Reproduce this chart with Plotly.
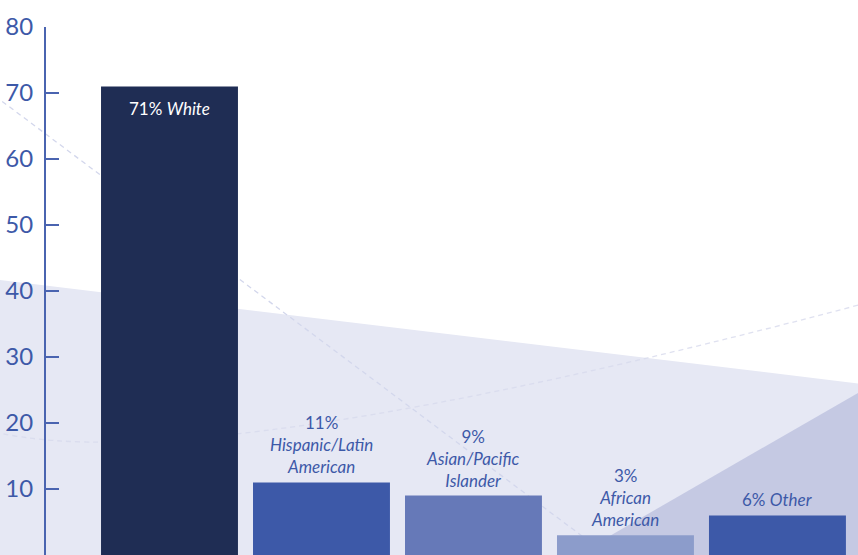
import plotly.graph_objects as go

categories = ["White", "Hispanic/Latin American", "Asian/Pacific Islander", "African American", "Other"]
values = [71, 11, 9, 3, 6]
pct_labels = ["71%", "11%", "9%", "3%", "6%"]
name_lines = [["White"], ["Hispanic/Latin", "American"], ["Asian/Pacific", "Islander"], ["African", "American"], ["Other"]]
bar_colors = ["#1F2D54", "#3D59A8", "#6679B8", "#8C9CCB", "#3D59A8"]
y_ticks = [0, 10, 20, 30, 40, 50, 60, 70, 80]

W, H = 858, 555
ML, MT, MR, MB = 46, 27, 0, 0
PW, PH = W - ML - MR, H - MT - MB

def px(x):
    return (x - ML) / PW

def py(y):
    return (H - MB - y) / PH

TEXT = "#3D59A8"
FONT = "Lato"

fig = go.Figure()
fig.add_trace(go.Bar(
    x=categories, y=values,
    marker=dict(color=bar_colors, line=dict(width=0)),
    hoverinfo="skip",
))

annotations = []
for i, (c, v) in enumerate(zip(categories, values)):
    names = "<br>".join("<i>%s</i>" % n for n in name_lines[i])
    if i == 0:
        annotations.append(dict(
            x=c, y=v, xref="x", yref="y", yanchor="top", yshift=-10,
            text="%s <i>%s</i>" % (pct_labels[i], name_lines[i][0]),
            showarrow=False, font=dict(family=FONT, size=17, color="white")))
    elif len(name_lines[i]) == 1:
        annotations.append(dict(
            x=c, y=v, xref="x", yref="y", yanchor="bottom", yshift=3,
            text="%s <i>%s</i>" % (pct_labels[i], name_lines[i][0]),
            showarrow=False, font=dict(family=FONT, size=17, color=TEXT)))
    else:
        annotations.append(dict(
            x=c, y=v, xref="x", yref="y", yanchor="bottom", yshift=3,
            text="%s<br>%s" % (pct_labels[i], names),
            showarrow=False, font=dict(family=FONT, size=17, color=TEXT)))

shapes = [
    # light lavender background band
    dict(type="path", xref="paper", yref="paper", layer="below",
         path="M %f %f L %f %f L %f %f L %f %f Z" % (px(-5), py(279.5), px(863), py(384), px(863), py(560), px(-5), py(560)),
         fillcolor="#E6E8F4", line=dict(width=0)),
    # darker triangle
    dict(type="path", xref="paper", yref="paper", layer="below",
         path="M %f %f L %f %f L %f %f Z" % (px(575), py(556), px(863), py(390), px(863), py(556)),
         fillcolor="#C5C9E3", line=dict(width=0)),
    # dashed diagonal
    dict(type="line", xref="paper", yref="paper", layer="below",
         x0=px(-5), y0=py(96), x1=px(630), y1=py(572),
         line=dict(color="#D3D7EC", width=1.3, dash="5px,4px")),
    # dashed curve
    dict(type="path", xref="paper", yref="paper", layer="below",
         path="M %f %f Q %f %f %f %f" % (px(-5), py(432), px(200), py(480), px(870), py(302)),
         line=dict(color="rgba(215,218,236,0.8)", width=1.3, dash="5px,4px")),
]

fig.update_layout(
    width=W, height=H,
    margin=dict(l=ML, r=MR, t=MT, b=MB, pad=0),
    paper_bgcolor="white", plot_bgcolor="rgba(0,0,0,0)",
    bargap=0.099,
    showlegend=False,
    shapes=shapes,
    annotations=annotations,
    xaxis=dict(range=[-0.8125, 4.53], visible=False, fixedrange=True),
    yaxis=dict(range=[0, 80], tickvals=y_ticks, ticktext=[str(t) for t in y_ticks],
               showgrid=False, zeroline=False, showline=True, linecolor="#4A64B0", linewidth=2,
               ticks="inside", ticklen=13, tickwidth=2, tickcolor="#4A64B0",
               ticklabelstandoff=6,
               tickfont=dict(family=FONT, size=24, color=TEXT), fixedrange=True),
)

fig.write_html("out.html", config={"displayModeBar": False})
